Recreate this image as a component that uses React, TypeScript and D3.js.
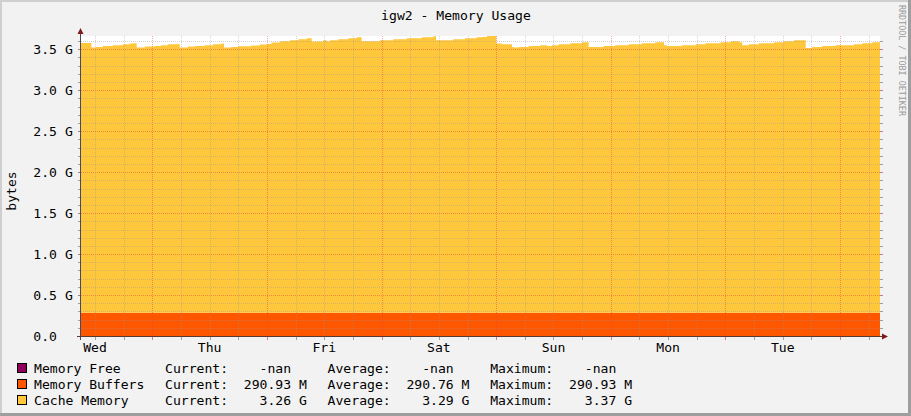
import React, { useEffect } from 'react';
import * as d3 from 'd3';

// ---------- data ----------
const titleText = 'igw2 - Memory Usage';
const yAxisLabel = 'bytes';
const watermark = 'RRDTOOL / TOBI OETIKER';

// graph starts Wed 09:04 and spans ~167.3 hours
const startTime = new Date(2024, 0, 3, 9, 4);
const spanHours = 167.3;

// sample times (hours after start) and cache memory (G) – step series
const sampleHours = [
  0, 2.16, 3.14, 4.61, 6.7, 8.79, 10.2, 10.89, 11.66, 13.34, 15.43, 16.81, 18.22, 20.31,
  20.67, 22.4, 23.81, 25.9, 27.64, 29.38, 29.94, 31.47, 32.87, 35.66, 37.42, 39.15, 39.85,
  41.67, 43.76, 45.5, 47.26, 48.3, 50.73, 51.44, 52.14, 53.87, 55.97, 57.73, 58.77, 62.6,
  65.39, 68.19, 71.34, 73.77, 74.33, 77.95, 80.4, 82.85, 83.96, 85.01, 86.96, 88.15, 90.24,
  90.6, 91.65, 93.74, 96.17, 97.57, 98.62, 100.02, 102.45, 104.9, 106.3, 109.44, 111.87,
  114.68, 117.46, 120.25, 122.07, 122.7, 125.84, 128.71, 130.8, 133.94, 136.04, 137.77,
  138.46, 139.87, 141.96, 145.1, 147.19, 149.29, 151.74, 153.12, 155.21, 158.02, 161.85,
  163.59, 165.68,
];
const cacheG = [
  3.293, 3.237, 3.244, 3.256, 3.265, 3.277, 3.286, 3.289, 3.237, 3.249, 3.256, 3.265, 3.277,
  3.281, 3.237, 3.249, 3.256, 3.265, 3.277, 3.286, 3.237, 3.244, 3.253, 3.261, 3.273, 3.281,
  3.298, 3.314, 3.326, 3.338, 3.35, 3.31, 3.326, 3.314, 3.326, 3.338, 3.35, 3.362, 3.314,
  3.326, 3.338, 3.35, 3.362, 3.375, 3.326, 3.338, 3.35, 3.362, 3.366, 3.378, 3.286, 3.277,
  3.244, 3.237, 3.244, 3.256, 3.265, 3.256, 3.265, 3.277, 3.289, 3.301, 3.244, 3.256, 3.265,
  3.277, 3.289, 3.301, 3.265, 3.256, 3.265, 3.277, 3.289, 3.301, 3.314, 3.301, 3.265, 3.277,
  3.289, 3.301, 3.314, 3.326, 3.232, 3.244, 3.256, 3.265, 3.277, 3.289, 3.301,
];
const buffersG = 0.2841; // 290.93 M

const yTickValues = [0, 0.5, 1.0, 1.5, 2.0, 2.5, 3.0, 3.5];

const legendNames = ['Memory Free', 'Memory Buffers', 'Cache Memory'];
const legendColors = ['#8F005C', '#FF5700', '#FFC73B'];
const currentValues = ['-nan', '290.93', '3.26'];
const averageValues = ['-nan', '290.76', '3.29'];
const maximumValues = ['-nan', '290.93', '3.37'];
const valueUnits = ['', 'M', 'G'];

// ---------- layout ----------
const W = 911;
const H = 416;
const PL = 81;
const PR = 880;
const PT = 36;
const PB = 336;
const FONT = '"DejaVu Sans Mono", monospace';
const FS = 13.1;

const MINOR = 'rgba(150,150,150,0.42)';
const MAJOR = 'rgba(235,60,60,0.45)';

export default function App() {
  useEffect(() => {
    document.body.style.margin = '0';
  }, []);

  const endTime = new Date(startTime.getTime() + spanHours * 3600e3);
  const toDate = (h: number) => new Date(startTime.getTime() + h * 3600e3);

  const points = sampleHours.map((h, i) => ({ t: toDate(h), cache: cacheG[i] }));
  points.push({ t: endTime, cache: cacheG[cacheG.length - 1] });

  const totals = cacheG.map((c) => c + buffersG);
  const yMax = d3.max(totals) as number;

  const x = d3.scaleTime().domain([startTime, endTime]).range([PL, PR]);
  const y = d3.scaleLinear().domain([0, yMax]).range([PB, PT]);

  const buffersArea = d3
    .area<{ t: Date; cache: number }>()
    .x((d) => x(d.t))
    .y0(y(0))
    .y1(y(buffersG))
    .curve(d3.curveStepAfter);

  const cacheArea = d3
    .area<{ t: Date; cache: number }>()
    .x((d) => x(d.t))
    .y0(y(buffersG))
    .y1((d) => y(buffersG + d.cache))
    .curve(d3.curveStepAfter);

  // grid values
  const minorY: number[] = [];
  for (let i = 1; i * 0.1 <= yMax + 1e-9; i++) {
    if (i % 5 !== 0) minorY.push(+(i * 0.1).toFixed(1));
  }
  const majorY = yTickValues.filter((v) => v > 0);

  const sixHours = d3.timeHour.every(6)!.range(startTime, endTime).filter((d) => d.getHours() !== 0);
  const days = d3.timeDay.range(startTime, endTime);
  const noons = d3.timeDay
    .range(d3.timeDay.floor(startTime), endTime)
    .map((d) => d3.timeHour.offset(d, 12))
    .filter((d) => d >= startTime && d <= endTime);
  const dayFmt = d3.timeFormat('%a');

  const px = (v: number) => Math.round(v) + 0.5;

  const legendRowY = [368, 384, 400];
  const fmtItem = (label: string, v: string, unit: string) => `${label}${v.padStart(8)} ${unit}`;

  return (
    <svg
      width={W}
      height={H}
      style={{ position: 'absolute', left: 0, top: 0, display: 'block' }}
      fontFamily={FONT}
    >
      {/* background + shade border */}
      <rect x={0} y={0} width={W} height={H} fill="#F2F2F2" />
      <rect x={0} y={0} width={W} height={2} fill="#CFCFCF" />
      <rect x={0} y={0} width={2} height={H} fill="#CFCFCF" />
      <rect x={W - 3} y={0} width={3} height={H} fill="#9E9E9E" />
      <rect x={0} y={H - 3} width={W} height={3} fill="#9E9E9E" />

      {/* title */}
      <text x={456} y={19.5} fontSize={FS} textAnchor="middle" fill="#000">
        {titleText}
      </text>

      {/* watermark */}
      <text
        transform="translate(899,5) rotate(90)"
        fontSize={8.4}
        fill="#9A9A9A"
        textAnchor="start"
      >
        {watermark}
      </text>

      {/* canvas */}
      <rect x={PL} y={PT} width={PR - PL} height={PB - PT} fill="#FFFFFF" />

      {/* areas */}
      <path d={buffersArea(points) || ''} fill={legendColors[1]} />
      <path d={cacheArea(points) || ''} fill={legendColors[2]} />

      {/* horizontal grid */}
      {minorY.map((v) => (
        <g key={'hy' + v}>
          <line x1={PL} x2={PR} y1={px(y(v))} y2={px(y(v))} stroke={MINOR} strokeDasharray="1 1" />
          <line x1={PL - 3} x2={PL} y1={px(y(v))} y2={px(y(v))} stroke="#A0A0A0" />
          <line x1={PR} x2={PR + 3} y1={px(y(v))} y2={px(y(v))} stroke="#A0A0A0" />
        </g>
      ))}
      {majorY.map((v) => (
        <g key={'hY' + v}>
          <line x1={PL} x2={PR} y1={px(y(v))} y2={px(y(v))} stroke={MAJOR} strokeDasharray="1 1" />
          <line x1={PL - 3} x2={PL} y1={px(y(v))} y2={px(y(v))} stroke="#A08080" />
          <line x1={PR} x2={PR + 3} y1={px(y(v))} y2={px(y(v))} stroke="#C08080" />
        </g>
      ))}

      {/* vertical grid */}
      {sixHours.map((d) => (
        <g key={'vx' + d.getTime()}>
          <line x1={px(x(d))} x2={px(x(d))} y1={PT} y2={PB} stroke={MINOR} strokeDasharray="1 1" />
          <line x1={px(x(d))} x2={px(x(d))} y1={PB + 1} y2={PB + 4} stroke="#A0A0A0" />
        </g>
      ))}
      {days.map((d) => (
        <g key={'vX' + d.getTime()}>
          <line x1={px(x(d))} x2={px(x(d))} y1={PT} y2={PB} stroke={MAJOR} strokeDasharray="1 1" />
          <line x1={px(x(d))} x2={px(x(d))} y1={PB + 1} y2={PB + 4} stroke="#D08080" />
        </g>
      ))}

      {/* axes */}
      <line x1={PL - 0.5} x2={PL - 0.5} y1={PT - 3} y2={PB + 4} stroke="#4A4A5A" />
      <line x1={PL - 4} x2={PR + 3} y1={PB + 0.5} y2={PB + 0.5} stroke="#5A3A30" />
      <path d={`M${PL - 0.5},${PT - 8} L${PL - 3.5},${PT - 2} L${PL + 2.5},${PT - 2} Z`} fill="#7F1A1A" />
      <path d={`M${PR + 8},${PB + 0.5} L${PR + 2},${PB - 2.5} L${PR + 2},${PB + 3.5} Z`} fill="#7F1A1A" />

      {/* y tick labels */}
      {yTickValues.map((v) => (
        <g key={'yl' + v}>
          <text x={57} y={y(v) + 4.6} fontSize={FS} textAnchor="end" fill="#000">
            {v.toFixed(1)}
          </text>
          {v > 0 && (
            <text x={65} y={y(v) + 4.6} fontSize={FS} fill="#000">
              G
            </text>
          )}
        </g>
      ))}

      {/* x labels */}
      {noons.map((d) => (
        <text key={'xl' + d.getTime()} x={x(d)} y={351.5} fontSize={FS} textAnchor="middle" fill="#000">
          {dayFmt(d)}
        </text>
      ))}

      {/* y axis label */}
      <text transform={`translate(16,${(PT + PB) / 2 + 5}) rotate(-90)`} fontSize={FS} textAnchor="middle" fill="#000">
        {yAxisLabel}
      </text>

      {/* legend */}
      {legendNames.map((name, i) => (
        <g key={'lg' + i}>
          <rect x={17.5} y={legendRowY[i] - 4.5} width={9} height={9} fill={legendColors[i]} stroke="#000" strokeWidth={1} />
          <text x={34} y={legendRowY[i] + 4.6} fontSize={FS} fill="#000">
            {name}
          </text>
          <text x={165} y={legendRowY[i] + 4.6} fontSize={FS} fill="#000" style={{ whiteSpace: 'pre' }}>
            {fmtItem('Current:', currentValues[i], valueUnits[i])}
          </text>
          <text x={327.6} y={legendRowY[i] + 4.6} fontSize={FS} fill="#000" style={{ whiteSpace: 'pre' }}>
            {fmtItem('Average:', averageValues[i], valueUnits[i])}
          </text>
          <text x={490.2} y={legendRowY[i] + 4.6} fontSize={FS} fill="#000" style={{ whiteSpace: 'pre' }}>
            {fmtItem('Maximum:', maximumValues[i], valueUnits[i])}
          </text>
        </g>
      ))}
    </svg>
  );
}
